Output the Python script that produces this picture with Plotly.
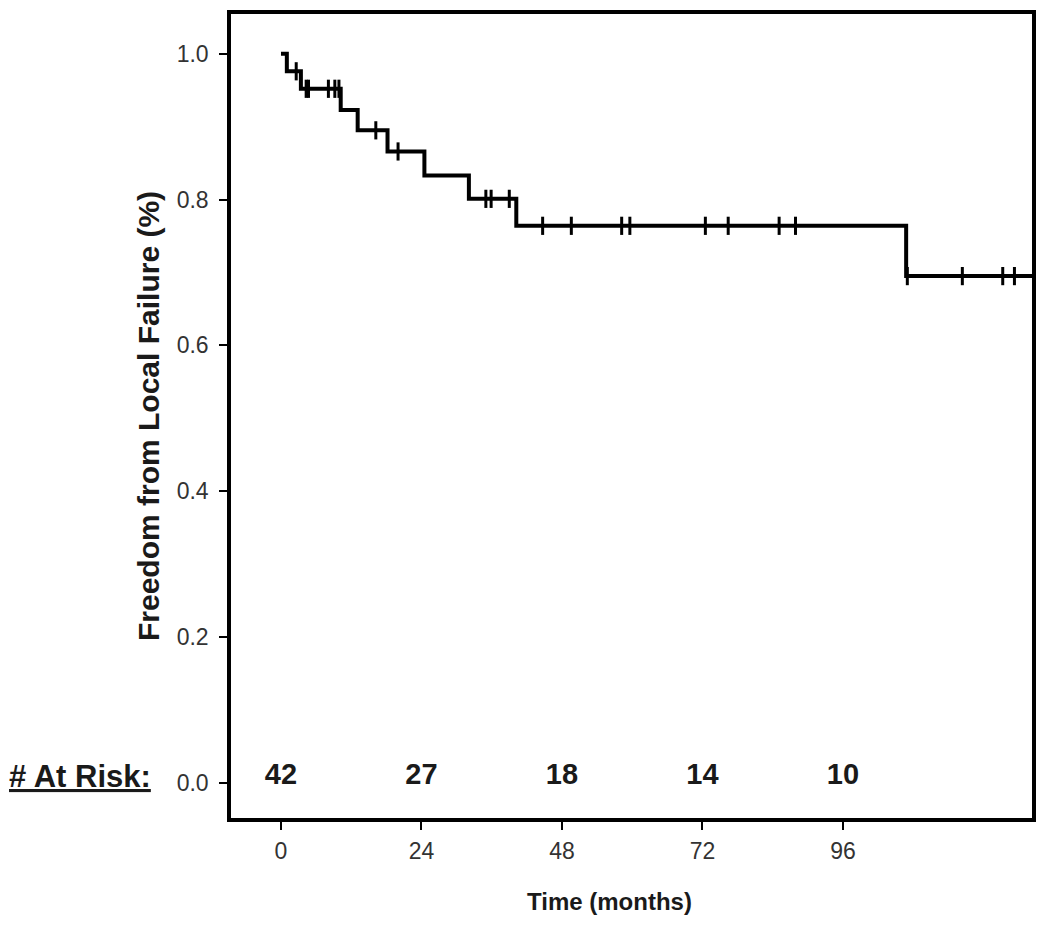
import plotly.graph_objects as go

# ---- data ----
event_times = [1.0, 3.4, 10.2, 13.1, 18.2, 24.5, 32.1, 40.2, 106.8]
survival = [0.976, 0.952, 0.923, 0.895, 0.866, 0.833, 0.801, 0.764, 0.695]
censor_times = [2.6, 4.3, 4.7, 8.1, 9.2, 9.9, 16.2, 20.0, 35.0, 35.9, 39.0,
                44.7, 49.6, 58.2, 59.6, 72.5, 76.4, 85.1, 87.9, 107.0,
                116.4, 123.3, 125.3]
follow_up_end = 130.5
risk_times = [0, 24, 48, 72, 96]
at_risk = [42, 27, 18, 14, 10]
x_ticks = [0, 24, 48, 72, 96]
y_ticks = [0.0, 0.2, 0.4, 0.6, 0.8, 1.0]


def surv_at(t):
    s = 1.0
    for et, sv in zip(event_times, survival):
        if et <= t:
            s = sv
    return s


curve_x = [0] + event_times + [follow_up_end]
curve_y = [1.0] + survival + [survival[-1]]
censor_y = [surv_at(t) for t in censor_times]

fig = go.Figure()
fig.add_trace(go.Scatter(
    x=curve_x, y=curve_y, mode="lines",
    line=dict(shape="hv", color="black", width=4),
    showlegend=False, hoverinfo="skip"))
fig.add_trace(go.Scatter(
    x=censor_times, y=censor_y, mode="markers",
    marker=dict(symbol="line-ns", size=13,
                line=dict(color="black", width=3)),
    showlegend=False))
fig.add_trace(go.Scatter(
    x=risk_times, y=[0.008] * len(risk_times), mode="text",
    text=[str(v) for v in at_risk], textposition="middle center",
    textfont=dict(family="Liberation Sans, Arial", size=29, color="#1a1a1a"),
    texttemplate="<b>%{text}</b>",
    showlegend=False, cliponaxis=False))

tick_font = dict(family="Liberation Sans, Arial", size=23, color="#333")

fig.update_layout(
    width=1042, height=921,
    margin=dict(l=223, r=18, t=2, b=111),
    plot_bgcolor="white", paper_bgcolor="white",
    xaxis=dict(range=[-8.54, 128.3], tickvals=x_ticks,
               ticks="outside", ticklen=8, tickwidth=2, tickcolor="black",
               showline=True, linewidth=3.5, linecolor="black", mirror=True,
               showgrid=False, zeroline=False, tickfont=tick_font,
               ticklabelstandoff=2),
    yaxis=dict(range=[-0.0485, 1.0546], tickvals=y_ticks, tickformat=".1f",
               ticks="outside", ticklen=8, tickwidth=2, tickcolor="black",
               showline=True, linewidth=3.5, linecolor="black", mirror=True,
               showgrid=False, zeroline=False, tickfont=tick_font,
               ticklabelstandoff=6),
    annotations=[
        dict(text="<b>Freedom from Local Failure (%)</b>", textangle=-90,
             xref="paper", yref="paper", x=-0.1036, y=0.5,
             xanchor="center", yanchor="middle", showarrow=False,
             font=dict(family="Liberation Sans, Arial", size=30, color="#1a1a1a")),
        dict(text="<b>Time (months)</b>",
             xref="paper", yref="paper", x=0.472, y=-0.104,
             xanchor="center", yanchor="middle", showarrow=False,
             font=dict(family="Liberation Sans, Arial", size=24, color="#1a1a1a")),
        dict(text="<u><b># At Risk:</b></u>",
             xref="paper", yref="y", x=-0.2797, y=0.008,
             xanchor="left", yanchor="middle", showarrow=False,
             font=dict(family="Liberation Sans, Arial", size=31, color="#1a1a1a")),
    ],
)

fig.write_html("out.html")
